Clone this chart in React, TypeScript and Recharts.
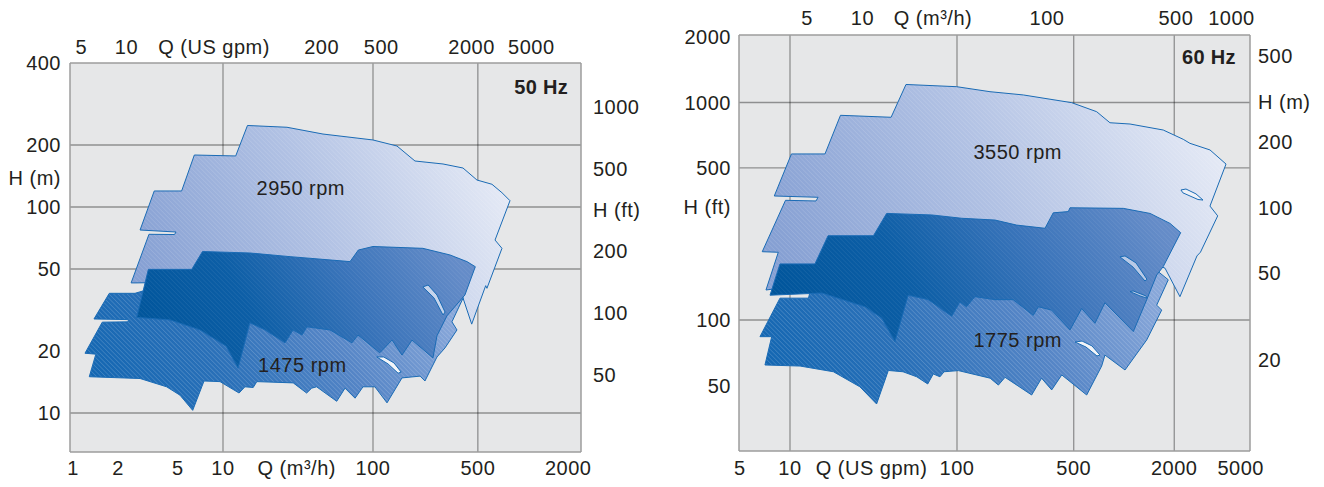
import React from "react";
import { ScatterChart, Scatter, XAxis, YAxis, CartesianGrid, ReferenceLine } from "recharts";

const FONT = '"Liberation Sans", Arial, Helvetica, sans-serif';
const INK = "#231f20";
const PLOT_BG = "#e6e7e8";
const GRID = "#000000";
const BORDER = "#9c9c9c";
const OUTLINE = "#1a6bb5";
const M3H_TO_GPM = 4.403;
const M_TO_FT = 3.281;

type XY = [number, number];

// ---------- 50 Hz: Q in m³/h, H in m ----------
const hz50QDomain = [0.955, 2436];
const hz50HDomain = [6.466, 500];
const hz50QTicks = [1, 2, 5, 10, 31, 100, 500, 2000];
const hz50QText = ["1", "2", "5", "10", "Q (m³/h)", "100", "500", "2000"];
const hz50GpmTicks = [5, 10, 38.4, 200, 500, 2000, 5000];
const hz50GpmText = ["5", "10", "Q (US gpm)", "200", "500", "2000", "5000"];
const hz50HTicks = [10, 20, 50, 100, 138, 200, 500];
const hz50HText = ["10", "20", "50", "100", "H (m)", "200", "400"];
const hz50FtTicks = [50, 100, 200, 317, 500, 1000];
const hz50FtText = ["50", "100", "200", "H (ft)", "500", "1000"];
const hz50GridQ = [10, 100, 500];
const hz50GridH = [10, 50, 100, 200];

// 2950 rpm envelope
const hz50Upper: XY[] = [
  [2.44, 42.8], [3.21, 73.7], [4.75, 73.5], [4.86, 75.6], [2.8, 77.3], [3.48, 119.6], [5.3, 119.6],
  [6.44, 178.8], [12.15, 176.9], [14.56, 248.7], [26.7, 243.8], [46.4, 226], [100, 211.5], [144.5, 197.7],
  [190.5, 167.2], [293, 161.7], [398, 154.6], [493, 135.2], [621, 128.9], [724, 117.3], [819, 107.3],
  [651, 69.1], [724, 63.0], [575, 40.3], [564, 41.5], [455, 27.0], [398, 36.2], [352, 38.7], [32.6, 44.2],
  [2.63, 42.8],
];
// overlap band
const hz50Dark: XY[] = [
  [3.18, 49.8], [6.19, 49.8], [7.3, 60.8], [15.1, 59.8], [28.0, 57.4], [70.3, 54.3], [79.8, 61.8], [100, 64.3],
  [215, 63.0], [326, 58.5], [423, 54.3], [481, 51.3], [410, 37.4], [311, 29.6], [267, 23.7], [251, 18.5],
  [182, 22.6], [156, 19.1], [134, 22.6], [111, 19.6], [79.4, 23.9], [72.4, 21.9], [51.7, 25.3], [36.3, 26.2],
  [33.6, 23.9], [29.3, 25.3], [25.9, 21.9], [19.1, 25.3], [15.1, 27.4], [12.6, 16.5], [10.5, 21.1],
  [7.03, 25.3], [4.43, 28.3], [2.66, 29.1],
];
// 1475 rpm envelope
const hz50Lower: XY[] = [
  [1.746, 38.1], [2.59, 38.1], [3.07, 39.5], [32.6, 35.4], [280, 36.2], [369, 37.4], [400, 36.3], [336, 27.7],
  [363, 25.3], [302, 20.7], [267, 18.7], [222, 14.3], [206, 15.1], [156, 14.8], [124, 11.2], [103, 13.4],
  [85.8, 13.4], [75.9, 11.8], [65.1, 13.2], [57.3, 11.4], [42.1, 13.4], [39.0, 13.2], [36.1, 12.5],
  [29.4, 14.0], [16.8, 14.2], [15.9, 13.3], [14.0, 13.4], [12.8, 12.5], [9.55, 14.2], [7.47, 14.3],
  [6.28, 10.3], [5.17, 12.2], [4.21, 13.4], [2.8, 14.7], [1.284, 15.0], [1.42, 19.3], [1.202, 19.5],
  [1.567, 27.6], [2.33, 27.7], [2.34, 28.4], [1.38, 28.6],
];
const hz50SlitA: XY[] = [[215, 40.9], [233, 41.8], [267, 37.4], [302, 30.9], [293, 29.9], [255, 36.2]];
const hz50SlitB: XY[] = [[106, 18.7], [118, 18.7], [138, 17.5], [154, 15.8], [147, 15.6], [126, 17.3]];
const hz50Labels = [
  { q: 33.0, h: 124.6, text: "2950 rpm", anchor: "middle", bold: false },
  { q: 33.8, h: 17.1, text: "1475 rpm", anchor: "middle", bold: false },
  { q: 1995, h: 382, text: "50 Hz", anchor: "end", bold: true },
];

// ---------- 60 Hz: Q in US gpm, H in ft ----------
const hz60QDomain = [4.95, 5683];
const hz60HDomain = [24.98, 2043];
const hz60M3hDomain = [2.141, 1260];
const hz60QTicks = [5, 10, 30.8, 100, 500, 2000, 5000];
const hz60QText = ["5", "10", "Q (US gpm)", "100", "500", "2000", "5000"];
const hz60M3hTicks = [5, 10, 24.1, 100, 500, 1000];
const hz60M3hText = ["5", "10", "Q (m³/h)", "100", "500", "1000"];
const hz60HTicks = [50, 100, 331, 500, 1000, 2000];
const hz60HText = ["50", "100", "H (ft)", "500", "1000", "2000"];
const hz60MTicks = [20, 50, 100, 200, 306, 500];
const hz60MText = ["20", "50", "100", "200", "H (m)", "500"];
const hz60GridQ = [10, 100, 500, 2000];
const hz60GridH = [100, 500, 1000];

// 3550 rpm envelope
const hz60Upper: XY[] = [
  [7.18, 137.4], [8.51, 204.8], [6.82, 206], [9.4, 355], [14.31, 352.5], [14.72, 366.5], [8.05, 371.6],
  [10.2, 580], [16.2, 580], [20.06, 873], [40.3, 855], [49.5, 1210], [99.6, 1182], [157.6, 1121],
  [249.5, 1083], [486, 998], [686, 907], [824, 807], [1087, 796], [1718, 747], [2265, 677], [2483, 649],
  [3273, 605], [4083, 521], [3273, 334], [3640, 301], [2871, 205], [2735, 197], [2163, 128], [1761, 173],
  [1432, 185], [181, 210], [8.13, 139],
];
const hz60Dark: XY[] = [
  [37.9, 309], [70.6, 304], [106.7, 293.5], [168.9, 288], [227.8, 273], [336.5, 264], [377, 311], [464, 315],
  [475, 328], [990, 326], [1432, 309], [1886, 278], [2185, 252], [1718, 176], [1570, 161], [1368, 124],
  [1137, 88.4], [769, 120], [670, 96.6], [558, 113], [475, 90.0], [369, 111], [307, 115], [286, 105],
  [217, 124], [169, 124], [128, 128], [114, 115], [104, 121], [92.9, 104], [67.3, 124], [51.0, 130],
  [42.5, 79.5], [35.4, 102], [28.1, 115], [15.5, 133], [7.59, 130], [8.71, 181], [14.1, 181], [16.9, 244],
  [31.6, 244],
];
// 1775 rpm envelope
const hz60Lower: XY[] = [
  [8.71, 126], [12.9, 126], [13.5, 145], [181, 137], [1432, 179], [1841, 153], [1570, 117], [1681, 111],
  [1368, 81.0], [1014, 58.9], [769, 69.0], [735, 61.4], [598, 45.2], [424, 55.9], [369, 47.7], [321, 54.0],
  [280, 45.2], [194, 54.5], [177, 50.2], [158, 54.0], [102, 58.5], [83.6, 57.8], [79.1, 54.8], [72.1, 56.5],
  [66.8, 50.8], [57.4, 54.8], [47.5, 57.8], [38.8, 58.6], [33.0, 41.1], [26.2, 49.3], [18.2, 57.8],
  [11.5, 61.4], [7.08, 62.1], [7.77, 83.8], [6.61, 83.8],
];
const hz60SlitA: XY[] = [[2193, 396], [2350, 400], [2698, 380], [2972, 356], [2773, 358], [2255, 384]];
const hz60SlitB: XY[] = [[946, 195], [1014, 197], [1180, 183], [1373, 154], [1336, 151], [1133, 175]];
const hz60SlitC: XY[] = [[1087, 135], [1133, 136], [1354, 129], [1373, 126], [1247, 129]];
const hz60SlitD: XY[] = [[509, 79.2], [561, 80.0], [643, 76.0], [718, 69.0], [689, 68.3], [592, 75.1]];
const hz60Labels = [
  { q: 231, h: 594, text: "3550 rpm", anchor: "middle", bold: false },
  { q: 231, h: 80.9, text: "1775 rpm", anchor: "middle", bold: false },
  { q: 4667, h: 1619, text: "60 Hz", anchor: "end", bold: true },
];

// fill styles
const LIGHT = ["#86a0d3", "#b2c2e4", "#e4e9f5"];
const DARK = ["#00559b", "#0c5ea6", "#3a74ba", "#658cc8"];
const LOWER = ["#1467b2", "#2a70b8", "#5585c6", "#88a7d9"];

type Layer = { key: string; pts: XY[]; stops: string[]; hatch: number };

const rows = (pts: XY[]) => pts.map(([q, h]) => ({ q, h }));

function polygon(layer: Layer, id: string) {
  return (p: any) => {
    const pts = (p.points || []).filter((d: any) => Number.isFinite(d.x) && Number.isFinite(d.y));
    if (pts.length < 3) return <g />;
    const d = pts.map((pt: any, i: number) => `${i ? "L" : "M"}${pt.x.toFixed(2)},${pt.y.toFixed(2)}`).join("") + "Z";
    const gid = `${id}-grad`;
    const hid = `${id}-hatch`;
    return (
      <g>
        <defs>
          <linearGradient id={gid} x1="0" y1="0.6" x2="1" y2="0.4">
            {layer.stops.map((c, i) => (
              <stop key={i} offset={layer.stops.length > 1 ? i / (layer.stops.length - 1) : 0} stopColor={c} />
            ))}
          </linearGradient>
          <pattern id={hid} width="3.2" height="3.2" patternUnits="userSpaceOnUse" patternTransform="rotate(-45)">
            <line x1="0" y1="0" x2="0" y2="3.2" stroke="#ffffff" strokeWidth="0.9" />
          </pattern>
        </defs>
        <path d={d} fill={`url(#${gid})`} />
        {layer.hatch > 0 && <path d={d} fill={`url(#${hid})`} opacity={layer.hatch} />}
        <path d={d} fill="none" stroke={OUTLINE} strokeWidth={1} />
      </g>
    );
  };
}

const label = (p: any) => (
  <text
    x={p.cx}
    y={p.cy}
    dy="0.36em"
    textAnchor={p.payload.anchor}
    fontWeight={p.payload.bold ? 700 : 400}
    fontSize={20}
    letterSpacing={p.payload.bold ? 0.3 : 0.5}
    fontFamily={FONT}
    fill={INK}
  >
    {p.payload.text}
  </text>
);

const fmt = (ticks: number[], texts: string[]) => (v: number) => {
  const i = ticks.indexOf(v);
  return i >= 0 ? texts[i] : String(v);
};

const TICK = { fill: INK, fontSize: 20, fontFamily: FONT, letterSpacing: 0.5 };
const AXIS = { stroke: BORDER, strokeWidth: 1.5 };

type PanelCfg = {
  id: string;
  left: number;
  width: number;
  margin: { top: number; right: number; bottom: number; left: number };
  sizes: { bottom: number; top: number; left: number; right: number };
  gaps: { bottom: number; top: number; left: number; right: number };
  qDomain: number[];
  q2Domain: number[];
  hDomain: number[];
  h2Domain: number[];
  qTicks: number[]; qText: string[];
  q2Ticks: number[]; q2Text: string[];
  hTicks: number[]; hText: string[];
  h2Ticks: number[]; h2Text: string[];
  gridQ: number[];
  gridH: number[];
  layers: Layer[];
  labels: any[];
};

function Panel({ cfg }: { cfg: PanelCfg }) {
  // corner points tie the secondary (top / right) axes to a series
  const corners = [
    { q: cfg.q2Domain[0], h: cfg.h2Domain[0] },
    { q: cfg.q2Domain[1], h: cfg.h2Domain[1] },
  ];
  return (
    <div style={{ position: "absolute", left: cfg.left, top: 0 }}>
      <ScatterChart width={cfg.width} height={487} margin={cfg.margin}>
        <CartesianGrid xAxisId="b" yAxisId="l" fill={PLOT_BG} horizontal={false} vertical={false} />
        <XAxis
          xAxisId="b" dataKey="q" type="number" scale="log" domain={cfg.qDomain} allowDataOverflow
          ticks={cfg.qTicks} tickFormatter={fmt(cfg.qTicks, cfg.qText)} interval={0}
          height={cfg.sizes.bottom} tickLine={false} tickSize={0} tickMargin={cfg.gaps.bottom}
          axisLine={AXIS} tick={TICK}
        />
        <XAxis
          xAxisId="t" dataKey="q" orientation="top" type="number" scale="log" domain={cfg.q2Domain} allowDataOverflow
          ticks={cfg.q2Ticks} tickFormatter={fmt(cfg.q2Ticks, cfg.q2Text)} interval={0}
          height={cfg.sizes.top} tickLine={false} tickSize={0} tickMargin={cfg.gaps.top}
          axisLine={AXIS} tick={TICK}
        />
        <YAxis
          yAxisId="l" dataKey="h" type="number" scale="log" domain={cfg.hDomain} allowDataOverflow
          ticks={cfg.hTicks} tickFormatter={fmt(cfg.hTicks, cfg.hText)} interval={0}
          width={cfg.sizes.left} tickLine={false} tickSize={0} tickMargin={cfg.gaps.left}
          axisLine={AXIS} tick={TICK}
        />
        <YAxis
          yAxisId="r" dataKey="h" orientation="right" type="number" scale="log" domain={cfg.h2Domain} allowDataOverflow
          ticks={cfg.h2Ticks} tickFormatter={fmt(cfg.h2Ticks, cfg.h2Text)} interval={0}
          width={cfg.sizes.right} tickLine={false} tickSize={0} tickMargin={cfg.gaps.right}
          axisLine={AXIS} tick={TICK}
        />
        {cfg.gridQ.map((v) => (
          <ReferenceLine key={`gx${v}`} x={v} xAxisId="b" yAxisId="l" stroke={GRID} strokeOpacity={0.38} strokeWidth={1.3} />
        ))}
        {cfg.gridH.map((v) => (
          <ReferenceLine key={`gy${v}`} y={v} xAxisId="b" yAxisId="l" stroke={GRID} strokeOpacity={0.38} strokeWidth={1.3} />
        ))}
        <Scatter data={corners} xAxisId="t" yAxisId="r" isAnimationActive={false} shape={() => <g />} />
        {cfg.layers.map((layer) => (
          <Scatter
            key={layer.key}
            data={rows(layer.pts)}
            xAxisId="b"
            yAxisId="l"
            isAnimationActive={false}
            shape={() => <g />}
            line={polygon(layer, `${cfg.id}-${layer.key}`)}
          />
        ))}
        <Scatter data={cfg.labels} xAxisId="b" yAxisId="l" isAnimationActive={false} shape={label} />
      </ScatterChart>
    </div>
  );
}

const slit = (key: string, pts: XY[], color: string): Layer => ({ key, pts, stops: [color, color], hatch: 0 });

const panel50: PanelCfg = {
  id: "p50",
  left: 0,
  width: 660,
  margin: { top: 20, right: 10, bottom: 10, left: 10 },
  sizes: { bottom: 25, top: 43, left: 60, right: 69 },
  gaps: { bottom: 9, top: 9, left: 9, right: 12 },
  qDomain: hz50QDomain,
  q2Domain: hz50QDomain.map((v) => v * M3H_TO_GPM),
  hDomain: hz50HDomain,
  h2Domain: hz50HDomain.map((v) => v * M_TO_FT),
  qTicks: hz50QTicks, qText: hz50QText,
  q2Ticks: hz50GpmTicks, q2Text: hz50GpmText,
  hTicks: hz50HTicks, hText: hz50HText,
  h2Ticks: hz50FtTicks, h2Text: hz50FtText,
  gridQ: hz50GridQ,
  gridH: hz50GridH,
  layers: [
    { key: "upper", pts: hz50Upper, stops: LIGHT, hatch: 0.22 },
    { key: "lower", pts: hz50Lower, stops: LOWER, hatch: 0.3 },
    { key: "dark", pts: hz50Dark, stops: DARK, hatch: 0.12 },
    slit("slitA", hz50SlitA, "#c6d4eb"),
    slit("slitB", hz50SlitB, "#f2f4f8"),
  ],
  labels: hz50Labels,
};

const panel60: PanelCfg = {
  id: "p60",
  left: 660,
  width: 664,
  margin: { top: 5, right: 10, bottom: 10, left: 10 },
  sizes: { bottom: 26, top: 30, left: 69, right: 64 },
  gaps: { bottom: 10, top: 10, left: 8, right: 8 },
  qDomain: hz60QDomain,
  q2Domain: hz60M3hDomain,
  hDomain: hz60HDomain,
  h2Domain: hz60HDomain.map((v) => v / M_TO_FT),
  qTicks: hz60QTicks, qText: hz60QText,
  q2Ticks: hz60M3hTicks, q2Text: hz60M3hText,
  hTicks: hz60HTicks, hText: hz60HText,
  h2Ticks: hz60MTicks, h2Text: hz60MText,
  gridQ: hz60GridQ,
  gridH: hz60GridH,
  layers: [
    { key: "upper", pts: hz60Upper, stops: LIGHT, hatch: 0.22 },
    { key: "lower", pts: hz60Lower, stops: LOWER, hatch: 0.3 },
    { key: "dark", pts: hz60Dark, stops: DARK, hatch: 0.12 },
    slit("slitA", hz60SlitA, "#eef1f7"),
    slit("slitB", hz60SlitB, "#b8c9e6"),
    slit("slitC", hz60SlitC, "#b8c9e6"),
    slit("slitD", hz60SlitD, "#f2f4f8"),
  ],
  labels: hz60Labels,
};

export default function App() {
  return (
    <div style={{ position: "absolute", left: 0, top: 0, width: 1324, height: 487, background: "#ffffff", fontFamily: FONT }}>
      <Panel cfg={panel50} />
      <Panel cfg={panel60} />
    </div>
  );
}
